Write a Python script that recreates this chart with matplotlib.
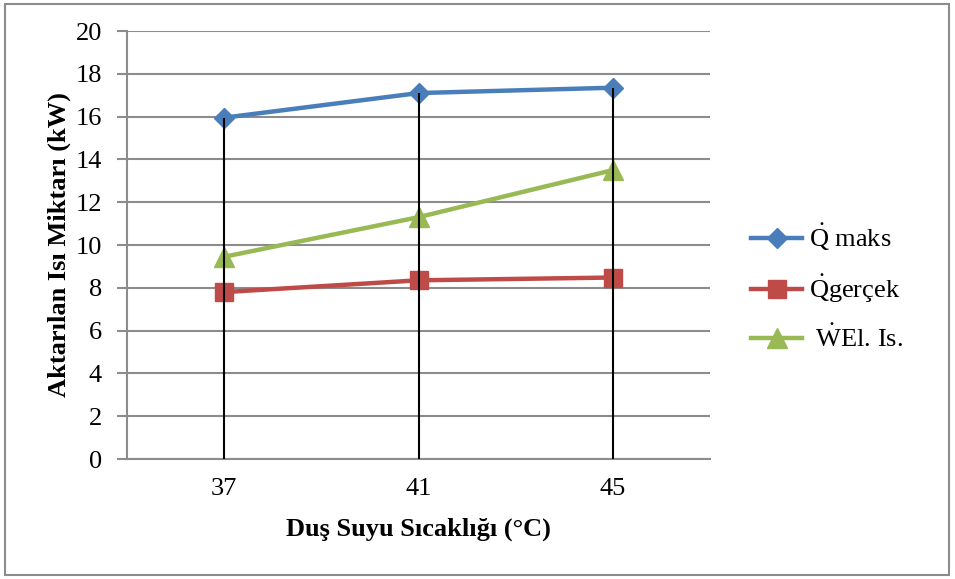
import matplotlib
matplotlib.use("Agg")
import matplotlib.pyplot as plt
from matplotlib.patches import Rectangle

categories = ["37", "41", "45"]
q_maks = [15.95, 17.1, 17.35]
q_gercek = [7.8, 8.35, 8.48]
w_el = [9.45, 11.3, 13.5]
series_labels = [r"$\dot{\mathrm{Q}}$ maks", r"$\dot{\mathrm{Q}}$gerçek", r" $\dot{\mathrm{W}}$El. Is."]
y_ticks = [0, 2, 4, 6, 8, 10, 12, 14, 16, 18, 20]

plt.rcParams['font.family'] = ['Liberation Serif', 'DejaVu Serif']
plt.rcParams['mathtext.fontset'] = 'custom'
plt.rcParams['mathtext.rm'] = 'Liberation Serif'
plt.rcParams['mathtext.it'] = 'Liberation Serif:italic'
plt.rcParams['mathtext.bf'] = 'Liberation Serif:bold'

fig = plt.figure(figsize=(9.55, 5.79), dpi=100)
ax = fig.add_axes([127/955, 1-459/579, (710-127)/955, (459-31)/579])

x = list(range(len(categories)))
blue, red, green = "#4A7EBB", "#BE4B48", "#98B954"
ax.plot(x, q_maks, color=blue, lw=3.2, marker="D", ms=10, label=series_labels[0], zorder=3)
ax.plot(x, q_gercek, color=red, lw=3.2, marker="s", ms=13, label=series_labels[1], zorder=3)
ax.plot(x, w_el, color=green, lw=3.2, marker="^", ms=14, label=series_labels[2], zorder=3)

# drop lines
for i in x:
    top = max(q_maks[i], q_gercek[i], w_el[i])
    ax.plot([i, i], [0, top], color="black", lw=1.5, zorder=4, solid_capstyle="butt")

ax.set_xlim(-0.5, 2.5)
ax.set_ylim(0, 20)
ax.set_yticks(y_ticks)
ax.set_xticks(x)
ax.set_xticklabels(categories)
ax.grid(axis="y", color="#8C8C8C", lw=1.5)
ax.set_axisbelow(True)
for s in ["top", "right"]:
    ax.spines[s].set_visible(False)
for s in ["left", "bottom"]:
    ax.spines[s].set_color("#8C8C8C")
    ax.spines[s].set_linewidth(1.5)
ax.tick_params(axis="y", length=7, width=1.5, color="#8C8C8C", labelsize=19, pad=11)
ax.tick_params(axis="x", length=0, labelsize=19, pad=14)

ax.set_xlabel("Duş Suyu Sıcaklığı (°C)", fontsize=19, fontweight="bold", labelpad=12)
ax.set_ylabel("Aktarılan Isı Miktarı (kW)", fontsize=19, fontweight="bold", labelpad=3)

fig.legend(loc="center left", bbox_to_anchor=(751/955, 1-287/579), frameon=False,
           fontsize=19, handlelength=1.95, labelspacing=0.75, handletextpad=0.25,
           borderaxespad=0, borderpad=0)

fig.patches.append(Rectangle((5/955, 4/579), 944/955, 571/579, transform=fig.transFigure,
                             fill=False, edgecolor="#8C8C8C", lw=1.5))

fig.savefig("out.png", dpi=100)
